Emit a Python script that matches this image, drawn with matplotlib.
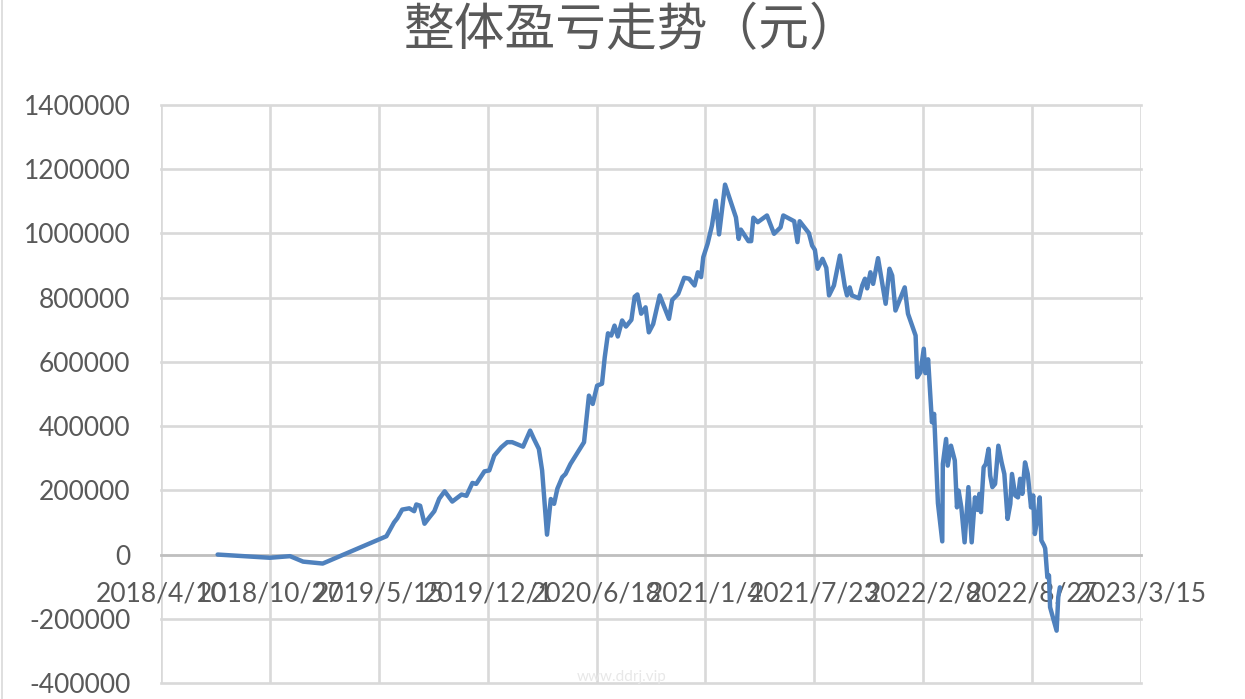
import numpy as np
import pandas as pd
import matplotlib
matplotlib.use("Agg")
import matplotlib.pyplot as plt
from matplotlib.lines import Line2D

plt.rcParams["font.family"] = ["Lato", "DejaVu Sans"]

# DATA
# ==========================================
dates = [
    "2018-07-23", "2018-10-27", "2018-12-03", "2018-12-27", "2019-02-01",
    "2019-05-29", "2019-06-12", "2019-06-18", "2019-06-27", "2019-07-10",
    "2019-07-19", "2019-07-23", "2019-07-30", "2019-08-07", "2019-08-16",
    "2019-08-25", "2019-09-03", "2019-09-13", "2019-09-27", "2019-10-14",
    "2019-10-23", "2019-11-03", "2019-11-10", "2019-11-25", "2019-12-04",
    "2019-12-13", "2019-12-26", "2020-01-06", "2020-01-15", "2020-02-04",
    "2020-02-17", "2020-02-24", "2020-03-04", "2020-03-10", "2020-03-19",
    "2020-03-26", "2020-04-01", "2020-04-07", "2020-04-16", "2020-04-22",
    "2020-05-01", "2020-05-26", "2020-06-04", "2020-06-11", "2020-06-19",
    "2020-06-28", "2020-07-03", "2020-07-09", "2020-07-15", "2020-07-21",
    "2020-07-27", "2020-08-04", "2020-08-11", "2020-08-21", "2020-08-27",
    "2020-09-01", "2020-09-08", "2020-09-16", "2020-09-22", "2020-09-30",
    "2020-10-12", "2020-10-29", "2020-11-04", "2020-11-15", "2020-11-26",
    "2020-12-05", "2020-12-15", "2020-12-21", "2020-12-27", "2020-12-31",
    "2021-01-08", "2021-01-16", "2021-01-23", "2021-01-29", "2021-02-09",
    "2021-03-01", "2021-03-06", "2021-03-10", "2021-03-24", "2021-03-29",
    "2021-04-02", "2021-04-10", "2021-04-27", "2021-05-10", "2021-05-22",
    "2021-05-27", "2021-06-16", "2021-06-22", "2021-06-26", "2021-07-13",
    "2021-07-19", "2021-07-24", "2021-07-29", "2021-08-07", "2021-08-14",
    "2021-08-19", "2021-08-28", "2021-09-08", "2021-09-17", "2021-09-21",
    "2021-09-26", "2021-09-30", "2021-10-13", "2021-10-19", "2021-10-24",
    "2021-10-28", "2021-11-03", "2021-11-08", "2021-11-17", "2021-12-01",
    "2021-12-08", "2021-12-13", "2021-12-19", "2022-01-05", "2022-01-11",
    "2022-01-25", "2022-01-28", "2022-02-03", "2022-02-09", "2022-02-12",
    "2022-02-17", "2022-02-24", "2022-02-28", "2022-03-07", "2022-03-15",
    "2022-03-16", "2022-03-22", "2022-03-25", "2022-03-31", "2022-04-07",
    "2022-04-11", "2022-04-14", "2022-04-19", "2022-04-25", "2022-05-02",
    "2022-05-08", "2022-05-14", "2022-05-19", "2022-05-22", "2022-05-25",
    "2022-05-30", "2022-06-03", "2022-06-08", "2022-06-11", "2022-06-15",
    "2022-06-20", "2022-06-26", "2022-07-02", "2022-07-07", "2022-07-13",
    "2022-07-18", "2022-07-21", "2022-07-27", "2022-08-01", "2022-08-05",
    "2022-08-09", "2022-08-14", "2022-08-19", "2022-08-25", "2022-08-29",
    "2022-09-01", "2022-09-06", "2022-09-10", "2022-09-13", "2022-09-18",
    "2022-09-20", "2022-09-24", "2022-09-27", "2022-09-29", "2022-10-11",
    "2022-10-14", "2022-10-17",
]
profit = [
    0, -10000, -5000, -22000, -28000,
    57000, 100000, 113000, 140000, 144000,
    135000, 156000, 152000, 96000, 116000,
    135000, 174000, 197000, 165000, 187000,
    183000, 223000, 220000, 259000, 262000,
    308000, 334000, 350000, 350000, 336000,
    386000, 360000, 329000, 262000, 62000,
    173000, 158000, 205000, 241000, 251000,
    282000, 350000, 495000, 469000, 526000,
    532000, 614000, 689000, 682000, 713000,
    679000, 729000, 710000, 731000, 803000,
    810000, 750000, 770000, 692000, 718000,
    807000, 734000, 793000, 812000, 862000,
    859000, 838000, 879000, 864000, 926000,
    968000, 1025000, 1102000, 997000, 1152000,
    1050000, 983000, 1012000, 976000, 976000,
    1049000, 1035000, 1056000, 999000, 1019000,
    1056000, 1038000, 973000, 1038000, 1001000,
    962000, 949000, 890000, 921000, 893000,
    807000, 838000, 931000, 835000, 807000,
    832000, 807000, 798000, 838000, 859000,
    829000, 879000, 843000, 923000, 781000,
    890000, 869000, 760000, 832000, 750000,
    682000, 552000, 568000, 641000, 565000,
    608000, 412000, 438000, 160000, 41000,
    282000, 360000, 277000, 339000, 293000,
    147000, 199000, 147000, 38000, 210000,
    38000, 178000, 139000, 189000, 132000,
    272000, 282000, 329000, 246000, 210000,
    220000, 339000, 287000, 251000, 111000,
    158000, 251000, 184000, 178000, 236000,
    189000, 287000, 251000, 147000, 184000,
    64000, 116000, 178000, 44000, 28000,
    19000, -71000, -65000, -164000, -237000,
    -133000, -102000,
]
x_start = "2018-04-10"
x_end = "2023-03-15"
y_ticks = list(range(-400000, 1400001, 200000))
title = "整体盈亏走势（元）"
watermark = "www.ddrj.vip"

# PLOT
# ==========================================
text_grey = "#595959"
grid_grey = "#D9D9D9"

fig = plt.figure(figsize=(12.45, 6.99), dpi=100)
ax = fig.add_axes([161 / 1245, 1 - 683 / 699, 980 / 1245, 578 / 699])

ax.plot(pd.to_datetime(dates), profit, color="#4F81BD", lw=3.2,
        solid_joinstyle="round", solid_capstyle="round", zorder=3)

x_ticks = pd.date_range(x_start, x_end, freq="200D")
ax.set_xlim(pd.Timestamp(x_start), pd.Timestamp(x_end))
ax.set_ylim(y_ticks[0], y_ticks[-1])
ax.set_xticks(x_ticks)
ax.set_xticklabels([f"{d.year}/{d.month}/{d.day}" for d in x_ticks])
ax.set_yticks(y_ticks)
ax.set_yticklabels([str(v) for v in y_ticks])

ax.tick_params(axis="both", length=0, labelcolor=text_grey)
ax.tick_params(axis="y", pad=22, labelsize=19)
ax.tick_params(axis="x", pad=19.5, labelsize=19)

ax.grid(True, color=grid_grey, lw=1.9)
ax.set_axisbelow(True)
for gl in ax.get_xgridlines() + ax.get_ygridlines():
    gl.set_clip_on(False)

for side in ["top", "left", "right"]:
    ax.spines[side].set_visible(False)
ax.spines["bottom"].set_position(("data", 0))
ax.spines["bottom"].set_color("#BFBFBF")
ax.spines["bottom"].set_linewidth(1.9)
ax.spines["bottom"].set_zorder(1.5)

fig.text(631 / 1245, 1 - 31 / 699, title, ha="center", va="center",
         fontsize=36.5, color=text_grey, family=["Noto Sans CJK SC", "DejaVu Sans"])

fig.text(622 / 1245, 1 - 677 / 699, watermark, ha="center", va="center",
         fontsize=11, color="#E8E8E8")

# thin chart border on the left edge
fig.add_artist(Line2D([0.0015, 0.0015], [0, 1], transform=fig.transFigure,
                      color=grid_grey, lw=1.2))

fig.savefig("out.png", dpi=100)
